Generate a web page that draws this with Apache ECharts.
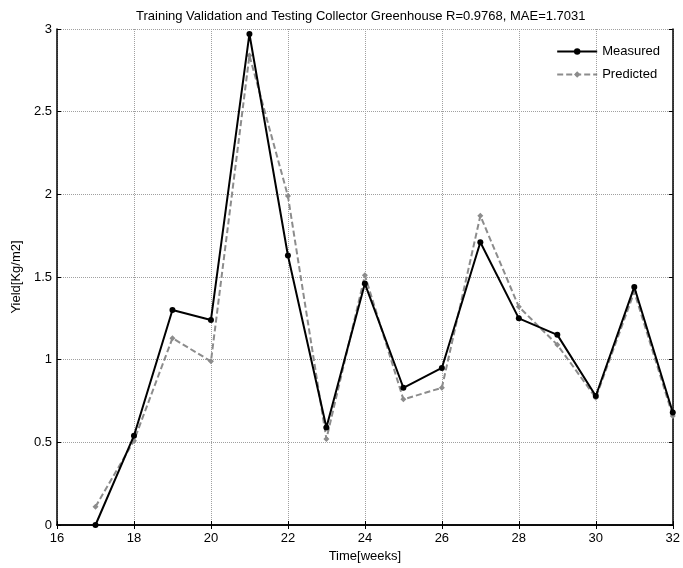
<!DOCTYPE html>
<html>
<head>
<meta charset="utf-8">
<script src="https://cdn.jsdelivr.net/npm/echarts@6/dist/echarts.min.js"></script>
<style>
  html, body { margin: 0; padding: 0; background: #fff; }
  #chart { width: 683px; height: 568px; }
</style>
</head>
<body>
<div id="chart"></div>
<script>
// Weekly yield of the collector greenhouse
const weeks     = [17, 18, 19, 20, 21, 22, 23, 24, 25, 26, 27, 28, 29, 30, 31, 32];
const measured  = [0.00, 0.54, 1.30, 1.24, 2.97, 1.63, 0.59, 1.46, 0.83, 0.95, 1.71, 1.25, 1.15, 0.78, 1.44, 0.68];
const predicted = [0.11, 0.51, 1.13, 0.99, 2.84, 1.99, 0.52, 1.51, 0.76, 0.83, 1.87, 1.32, 1.09, 0.77, 1.41, 0.66];

const titleText = 'Training Validation and Testing Collector Greenhouse R=0.9768, MAE=1.7031';
const xName = 'Time[weeks]';
const yName = 'Yield[Kg/m2]';

const FONT = 'Liberation Sans, Arial, sans-serif';
const FS = 13;

const pairs = (xs, ys) => xs.map((x, i) => [x, ys[i]]);

const chart = echarts.init(document.getElementById('chart'), null, { renderer: 'canvas' });

const tickStyle = { show: true, inside: true, length: 4, lineStyle: { color: '#000', width: 1 } };
const gridLine = { show: true, lineStyle: { color: '#a0a0a0', type: 'dotted', width: 1 } };

chart.setOption({
  animation: false,
  backgroundColor: '#fff',
  title: {
    text: titleText,
    left: 131,
    top: 5,
    textStyle: { fontFamily: FONT, fontSize: FS, fontWeight: 'normal', color: '#000' }
  },
  legend: {
    orient: 'vertical',
    right: 18,
    top: 40,
    itemWidth: 40,
    itemHeight: 8,
    itemGap: 10,
    textStyle: { fontFamily: FONT, fontSize: FS, color: '#000' },
    data: ['Measured', 'Predicted']
  },
  grid: { left: 57, right: 7, top: 29, bottom: 39, containLabel: false },
  xAxis: [
    {
      type: 'value', min: 16, max: 32, interval: 2,
      name: xName, nameLocation: 'middle', nameGap: 25,
      nameTextStyle: { fontFamily: FONT, fontSize: FS, color: '#000' },
      axisLine: { show: true, lineStyle: { color: '#000', width: 1.5 } },
      axisTick: tickStyle,
      axisLabel: { fontFamily: FONT, fontSize: FS, color: '#000', margin: 7 },
      splitLine: gridLine
    },
    {
      type: 'value', min: 16, max: 32, interval: 2, position: 'top',
      axisLine: { show: true, lineStyle: { color: '#000', width: 1.5 } },
      axisTick: tickStyle,
      axisLabel: { show: false },
      splitLine: { show: false }
    }
  ],
  yAxis: [
    {
      type: 'value', min: 0, max: 3, interval: 0.5,
      name: yName, nameLocation: 'middle', nameGap: 30, nameRotate: 90,
      nameTextStyle: { fontFamily: FONT, fontSize: FS, color: '#000' },
      axisLine: { show: true, lineStyle: { color: '#000', width: 1.5 } },
      axisTick: tickStyle,
      axisLabel: { fontFamily: FONT, fontSize: FS, color: '#000', margin: 5 },
      splitLine: gridLine
    },
    {
      type: 'value', min: 0, max: 3, interval: 0.5, position: 'right',
      axisLine: { show: true, lineStyle: { color: '#000', width: 1.5 } },
      axisTick: tickStyle,
      axisLabel: { show: false },
      splitLine: { show: false }
    }
  ],
  series: [
    {
      name: 'Measured',
      type: 'line',
      data: pairs(weeks, measured),
      symbol: 'circle',
      symbolSize: 6,
      lineStyle: { color: '#000', width: 2 },
      itemStyle: { color: '#000' },
      z: 3
    },
    {
      name: 'Predicted',
      type: 'line',
      data: pairs(weeks, predicted),
      symbol: 'diamond',
      symbolSize: 6,
      lineStyle: { color: '#8c8c8c', width: 2, type: [6, 3] },
      itemStyle: { color: '#8c8c8c' },
      z: 2
    }
  ]
});
</script>
</body>
</html>
